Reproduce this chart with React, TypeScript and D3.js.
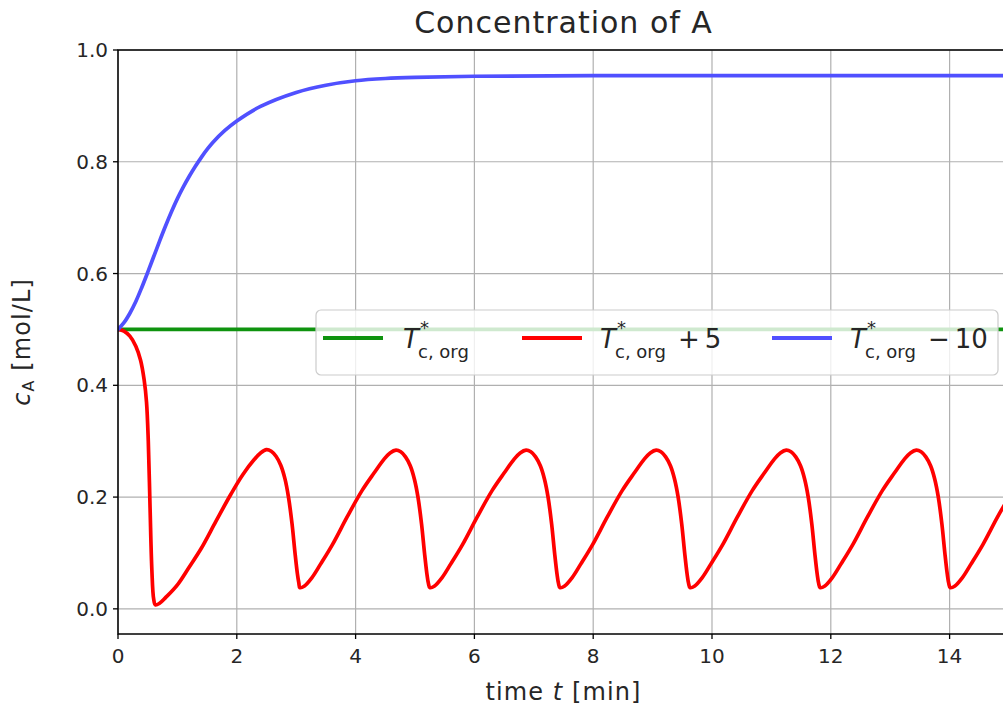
import React from "react";
import * as d3 from "d3";

// ---- data ----
const xTicks = [0, 2, 4, 6, 8, 10, 12, 14];
const yTicks = [0.0, 0.2, 0.4, 0.6, 0.8, 1.0];

const greenT = [0, 15];
const greenC = [0.5, 0.5];

const blueT = [0, 0.1, 0.2, 0.3, 0.4, 0.5, 0.6, 0.7, 0.8, 0.9, 1.0, 1.1, 1.2, 1.3, 1.4, 1.5, 1.6, 1.8, 2.0, 2.4, 3.0, 3.5, 4.0, 4.5, 5.0, 6.0, 8.0, 15.0];
const blueC = [0.5, 0.512, 0.529, 0.55, 0.575, 0.602, 0.63, 0.658, 0.685, 0.7105, 0.734, 0.755, 0.774, 0.7915, 0.8075, 0.822, 0.835, 0.856, 0.873, 0.899, 0.924, 0.937, 0.945, 0.949, 0.951, 0.953, 0.954, 0.954];

const redT = [
  0, 0.1, 0.2, 0.3, 0.38, 0.44, 0.48, 0.51, 0.54, 0.57, 0.6, 0.63, 0.7, 0.8, 1.0, 1.2, 1.4, 1.65, 1.9, 2.1, 2.3, 2.4, 2.5,
  2.58, 2.66, 2.74, 2.81, 2.87, 2.93, 2.98, 3.02, 3.045,
  3.06, 3.14, 3.26, 3.41, 3.61, 3.86, 4.11, 4.31, 4.48, 4.58, 4.68, 4.76, 4.84, 4.92, 4.99, 5.05, 5.11, 5.16, 5.20, 5.225,
  5.25, 5.33, 5.45, 5.60, 5.80, 6.05, 6.30, 6.50, 6.67, 6.77, 6.87, 6.95, 7.03, 7.11, 7.18, 7.24, 7.30, 7.35, 7.39, 7.415,
  7.44, 7.52, 7.64, 7.79, 7.99, 8.24, 8.49, 8.69, 8.86, 8.96, 9.06, 9.14, 9.22, 9.30, 9.37, 9.43, 9.49, 9.54, 9.58, 9.605,
  9.63, 9.71, 9.83, 9.98, 10.18, 10.43, 10.68, 10.88, 11.05, 11.15, 11.25, 11.33, 11.41, 11.49, 11.56, 11.62, 11.68, 11.73, 11.77, 11.795,
  11.82, 11.90, 12.02, 12.17, 12.37, 12.62, 12.87, 13.07, 13.24, 13.34, 13.44, 13.52, 13.60, 13.68, 13.75, 13.81, 13.87, 13.92, 13.96, 13.985,
  14.01, 14.09, 14.21, 14.36, 14.56, 14.81, 15.0,
];
const redC = [
  0.5, 0.497, 0.488, 0.47, 0.445, 0.41, 0.37, 0.3, 0.18, 0.07, 0.018, 0.007, 0.01, 0.02, 0.043, 0.075, 0.108, 0.157, 0.205, 0.24, 0.268, 0.279, 0.285,
  0.282, 0.273, 0.257, 0.233, 0.2, 0.152, 0.1, 0.063, 0.046,
  0.038, 0.041, 0.055, 0.08, 0.115, 0.165, 0.212, 0.243, 0.268, 0.279, 0.284, 0.281, 0.272, 0.256, 0.232, 0.2, 0.152, 0.1, 0.063, 0.046,
  0.038, 0.041, 0.055, 0.08, 0.115, 0.165, 0.212, 0.243, 0.268, 0.279, 0.284, 0.281, 0.272, 0.256, 0.232, 0.2, 0.152, 0.1, 0.063, 0.046,
  0.038, 0.041, 0.055, 0.08, 0.115, 0.165, 0.212, 0.243, 0.268, 0.279, 0.284, 0.281, 0.272, 0.256, 0.232, 0.2, 0.152, 0.1, 0.063, 0.046,
  0.038, 0.041, 0.055, 0.08, 0.115, 0.165, 0.212, 0.243, 0.268, 0.279, 0.284, 0.281, 0.272, 0.256, 0.232, 0.2, 0.152, 0.1, 0.063, 0.046,
  0.038, 0.041, 0.055, 0.08, 0.115, 0.165, 0.212, 0.243, 0.268, 0.279, 0.284, 0.281, 0.272, 0.256, 0.232, 0.2, 0.152, 0.1, 0.063, 0.046,
  0.038, 0.041, 0.055, 0.08, 0.115, 0.165, 0.2,
];

const seriesNames = ["green", "red", "blue"];
const legendTails = ["", "+5", "\u221210"];

// ---- layout ----
const W = 1003;
const H = 719;
const L = 118, R = 1009, T = 50, B = 634;

const GREEN = "#0f930f";
const RED = "#ff0000";
const BLUE = "#5050ff";

export default function App() {
  const x = d3.scaleLinear().domain([0, 15]).range([L, R]);
  const y = d3.scaleLinear().domain([-0.045, 1.0]).range([B, T]);
  const line = d3
    .line<[number, number]>()
    .x((d) => x(d[0]))
    .y((d) => y(d[1]))
    .curve(d3.curveCatmullRom.alpha(0.5));

  const zip = (a: number[], b: number[]) => a.map((t, i) => [t, b[i]] as [number, number]);
  const series = [
    { key: seriesNames[0], color: GREEN, d: zip(greenT, greenC) },
    { key: seriesNames[1], color: RED, d: zip(redT, redC) },
    { key: seriesNames[2], color: BLUE, d: zip(blueT, blueC) },
  ];

  const font = "DejaVu Sans, sans-serif";
  const tickFs = 20;
  const legFs = 26;
  const subFs = 18;
  const txt = "#262626";

  const legendItems = [
    { color: GREEN, hx: 323, tx: 403, tail: legendTails[0] },
    { color: RED, hx: 522, tx: 600, tail: legendTails[1] },
    { color: BLUE, hx: 772, tx: 850, tail: legendTails[2] },
  ];
  const legY = 338;

  return (
    <svg
      width={W}
      height={H}
      style={{ position: "absolute", left: 0, top: 0, background: "#fff" }}
      fontFamily={font}
    >
      <defs>
        <clipPath id="plot">
          <rect x={L} y={T} width={R - L} height={B - T} />
        </clipPath>
      </defs>
      <rect x={0} y={0} width={W} height={H} fill="#fff" />

      {/* grid */}
      <g stroke="#b0b0b0" strokeWidth={1.2}>
        {xTicks.map((t) => (
          <line key={"gx" + t} x1={x(t)} x2={x(t)} y1={T} y2={B} />
        ))}
        {yTicks.map((t) => (
          <line key={"gy" + t} x1={L} x2={R} y1={y(t)} y2={y(t)} />
        ))}
      </g>

      {/* lines */}
      <g clipPath="url(#plot)" fill="none" strokeWidth={3.7} strokeLinejoin="round" strokeLinecap="round">
        {series.map((s) => (
          <path key={s.key} d={line(s.d) || ""} stroke={s.color} />
        ))}
      </g>

      {/* spines */}
      <g stroke="#000" strokeWidth={1.5} fill="none">
        <rect x={L} y={T} width={R - L} height={B - T} />
      </g>

      {/* ticks */}
      <g stroke="#000" strokeWidth={1.3}>
        {xTicks.map((t) => (
          <line key={"tx" + t} x1={x(t)} x2={x(t)} y1={B} y2={B + 5} />
        ))}
        {yTicks.map((t) => (
          <line key={"ty" + t} x1={L - 5} x2={L} y1={y(t)} y2={y(t)} />
        ))}
      </g>
      <g fontSize={tickFs} fill={txt}>
        {xTicks.map((t) => (
          <text key={"lx" + t} x={x(t)} y={B + 29} textAnchor="middle">
            {String(t)}
          </text>
        ))}
        {yTicks.map((t) => (
          <text key={"ly" + t} x={L - 10} y={y(t) + 7} textAnchor="end">
            {t.toFixed(1)}
          </text>
        ))}
      </g>

      {/* title */}
      <text x={(L + R) / 2} y={33} textAnchor="middle" fontSize={30} letterSpacing={1.0} fill={txt}>
        Concentration of A
      </text>

      {/* x label */}
      <text x={(L + R) / 2} y={700} textAnchor="middle" fontSize={24} letterSpacing={1.1} fill={txt}>
        time <tspan fontStyle="italic">t</tspan> [min]
      </text>

      {/* y label */}
      <text
        transform={`translate(30, 342) rotate(-90)`}
        textAnchor="middle"
        fontSize={24}
        letterSpacing={1.1}
        fill={txt}
      >
        <tspan fontStyle="italic">c</tspan>
        <tspan fontSize={16} dy={4}>A</tspan>
        <tspan dy={-4}> [mol/L]</tspan>
      </text>

      {/* legend */}
      <rect x={316} y={310} width={682} height={65} rx={5} fill="#fff" fillOpacity={0.8} stroke="#cccccc" strokeWidth={1.2} />
      {legendItems.map((it, i) => (
        <g key={"leg" + i}>
          <line x1={it.hx} x2={it.hx + 60} y1={legY} y2={legY} stroke={it.color} strokeWidth={4} />
          <text x={it.tx} y={legY + 10} fontSize={legFs} fill={txt}>
            <tspan fontStyle="italic">T</tspan>
          </text>
          <text x={it.tx + 17} y={legY - 4} fontSize={subFs} fill={txt}>*</text>
          <text x={it.tx + 15} y={legY + 20} fontSize={subFs} fill={txt}>c, org</text>
          {it.tail && (
            <text x={it.tx + 78} y={legY + 10} fontSize={legFs} fill={txt}>
              {it.tail[0]}
              <tspan dx={5}>{it.tail.slice(1)}</tspan>
            </text>
          )}
        </g>
      ))}
    </svg>
  );
}
